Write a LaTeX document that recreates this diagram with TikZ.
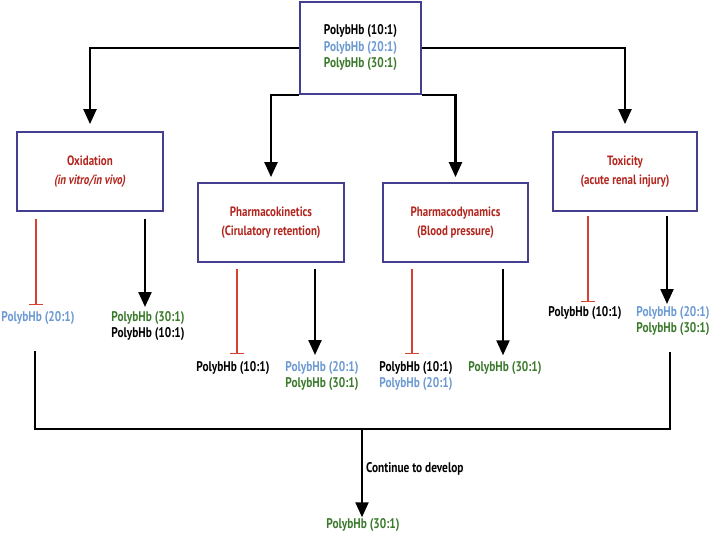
\documentclass[tikz,border=0pt]{standalone}
\usepackage{fontspec}
\setmainfont{PT Sans}[FakeStretch=0.81]
\usepackage{tikz}
\usetikzlibrary{arrows.meta,positioning,calc}

\definecolor{boxblue}{HTML}{443F8E}
\definecolor{txtred}{HTML}{B3261E}
\definecolor{inhred}{HTML}{D8412F}
\definecolor{lblue}{HTML}{6C9AD2}
\definecolor{dgreen}{HTML}{3B7A2C}

\newcommand{\polysize}{\fontsize{14}{16.5}\selectfont\bfseries}
\newcommand{\boxsize}{\fontsize{13.5}{18.5}\selectfont\bfseries}

\tikzset{
  studybox/.style={rectangle,draw=boxblue,line width=1.8pt,fill=white,font=\boxsize,
    text=txtred,align=center,minimum width=146pt,minimum height=79pt,inner sep=2pt},
  poly/.style={font=\polysize,align=center,inner sep=1pt},
  arr/.style={line width=2.3pt,-{Triangle[length=15pt,width=13pt]}},
  inh/.style={draw=inhred,line width=1.4pt,-{Bar[width=14pt,line width=1.4pt]}},
  joinline/.style={line width=2.3pt}
}

\begin{document}
\begin{tikzpicture}[x=1pt,y=-1pt]
\useasboundingbox (0,0) rectangle (712,540);
\node [studybox,text=black,font=\polysize,minimum width=121pt,minimum height=92pt] (top) at (360.5,48)
  {PolybHb (10:1)\\\textcolor{lblue}{PolybHb (20:1)}\\\textcolor{dgreen}{PolybHb (30:1)}};

\node [studybox] (oxi) at (90,171.5) {Oxidation\\\textit{(in vitro/in vivo)}};
\node [studybox] (pk) at (271,222.5) {Pharmacokinetics\\(Cirulatory retention)};
\node [studybox,minimum width=145pt] (pd) at (455.5,222.5) {Pharmacodynamics\\(Blood pressure)};
\node [studybox,minimum width=144pt] (tox) at (625,171.5) {Toxicity\\(acute renal injury)};

% from the top box
\draw [arr,shorten >=7pt] (top.west) -| (oxi);
\draw [arr,shorten >=7pt] (top.east) -| (tox);
\draw [arr,shorten >=5pt] (top.south west) -| (pk);
\draw [arr,shorten >=5pt] (top.south east) -| (pd);

% results
\node [poly,text=lblue] (oxiA) at (38,318) {PolybHb (20:1)};
\node [poly,anchor=north] (oxiB) at (148,310) {\textcolor{dgreen}{PolybHb (30:1)}\\PolybHb (10:1)};
\node [poly] (pkA) at (233,368) {PolybHb (10:1)};
\node [poly,anchor=north] (pkB) at (322,360) {\textcolor{lblue}{PolybHb (20:1)}\\\textcolor{dgreen}{PolybHb (30:1)}};
\node [poly,anchor=north] (pdA) at (416,360) {PolybHb (10:1)\\\textcolor{lblue}{PolybHb (20:1)}};
\node [poly,text=dgreen] (pdB) at (505,368) {PolybHb (30:1)};
\node [poly] (toxA) at (585,313) {PolybHb (10:1)};
\node [poly,anchor=north] (toxB) at (673,305) {\textcolor{lblue}{PolybHb (20:1)}\\\textcolor{dgreen}{PolybHb (30:1)}};

\draw [inh,shorten <=7pt,shorten >=5pt] (oxi.south -| 36,0) -- (oxiA.north -| 36,0);
\draw [arr,shorten <=7pt,shorten >=3pt] (oxi.south -| 145,0) -- (oxiB.north -| 145,0);
\draw [inh,shorten <=6pt,shorten >=6pt] (pk.south -| 237,0) -- (pkA.north -| 237,0);
\draw [arr,shorten <=6pt,shorten >=5pt] (pk.south -| 315,0) -- (pkB.north -| 315,0);
\draw [inh,shorten <=6pt,shorten >=6pt] (pd.south -| 412,0) -- (pdA.north -| 412,0);
\draw [arr,shorten <=6pt,shorten >=5pt] (pd.south -| 503,0) -- (pdB.north -| 503,0);
\draw [inh,shorten <=4pt,shorten >=3pt] (tox.south -| 588,0) -- (toxA.north -| 588,0);
\draw [arr,shorten <=4pt,shorten >=1pt] (tox.south -| 667,0) -- (toxB.north -| 667,0);

% continue to develop
\coordinate (bl) at (35,351);
\coordinate (br) at (670,352);
\coordinate (join) at (362,429);
\node [poly,text=dgreen] (final) at (363,525) {PolybHb (30:1)};
\draw [joinline] (bl) |- (br |- join) -- (br);
\draw [arr,shorten >=0pt] (join) -- (final.north -| join);
\node [poly,anchor=west] (dev) at (365,469) {Continue to develop};
\end{tikzpicture}
\end{document}
